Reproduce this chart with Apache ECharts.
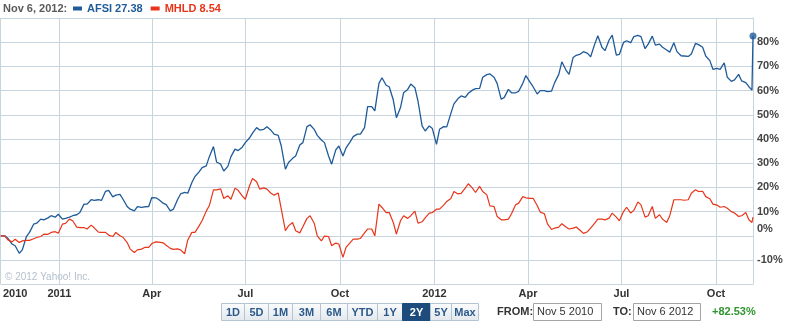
<!DOCTYPE html>
<html>
<head>
<meta charset="utf-8">
<script src="https://cdn.jsdelivr.net/npm/echarts@6/dist/echarts.min.js"></script>
<style>
  html, body { margin: 0; padding: 0; background: #fff; }
  #chart { width: 786px; height: 322px; }
</style>
</head>
<body>
<div id="chart"></div>
<script>
// Closing samples (Fridays and the following Tuesdays) plus the last two sessions.
const sampleDates = [
  '2010-11-05','2010-11-09','2010-11-12','2010-11-16','2010-11-19','2010-11-23','2010-11-26','2010-11-30',
  '2010-12-03','2010-12-07','2010-12-10','2010-12-14','2010-12-17','2010-12-21','2010-12-24','2010-12-28','2010-12-31','2011-01-04',
  '2011-01-07','2011-01-11','2011-01-14','2011-01-18','2011-01-21','2011-01-25','2011-01-28','2011-02-01',
  '2011-02-04','2011-02-08','2011-02-11','2011-02-15','2011-02-18','2011-02-22','2011-02-25','2011-03-01',
  '2011-03-04','2011-03-08','2011-03-11','2011-03-15','2011-03-18','2011-03-22','2011-03-25','2011-03-29',
  '2011-04-01','2011-04-05','2011-04-08','2011-04-12','2011-04-15','2011-04-19','2011-04-22','2011-04-26','2011-04-29','2011-05-03',
  '2011-05-06','2011-05-10','2011-05-13','2011-05-17','2011-05-20','2011-05-24','2011-05-27','2011-05-31',
  '2011-06-03','2011-06-07','2011-06-10','2011-06-14','2011-06-17','2011-06-21','2011-06-24','2011-06-28',
  '2011-07-01','2011-07-05','2011-07-08','2011-07-12','2011-07-15','2011-07-19','2011-07-22','2011-07-26','2011-07-29','2011-08-02',
  '2011-08-05','2011-08-09','2011-08-12','2011-08-16','2011-08-19','2011-08-23','2011-08-26','2011-08-30',
  '2011-09-02','2011-09-06','2011-09-09','2011-09-13','2011-09-16','2011-09-20','2011-09-23','2011-09-27','2011-09-30','2011-10-04',
  '2011-10-07','2011-10-11','2011-10-14','2011-10-18','2011-10-21','2011-10-25','2011-10-28','2011-11-01',
  '2011-11-04','2011-11-08','2011-11-11','2011-11-15','2011-11-18','2011-11-22','2011-11-25','2011-11-29',
  '2011-12-02','2011-12-06','2011-12-09','2011-12-13','2011-12-16','2011-12-20','2011-12-23','2011-12-27','2011-12-30','2012-01-03',
  '2012-01-06','2012-01-10','2012-01-13','2012-01-17','2012-01-20','2012-01-24','2012-01-27','2012-01-31',
  '2012-02-03','2012-02-07','2012-02-10','2012-02-14','2012-02-17','2012-02-21','2012-02-24','2012-02-28',
  '2012-03-02','2012-03-06','2012-03-09','2012-03-13','2012-03-16','2012-03-20','2012-03-23','2012-03-27','2012-03-30','2012-04-03',
  '2012-04-06','2012-04-10','2012-04-13','2012-04-17','2012-04-20','2012-04-24','2012-04-27','2012-05-01',
  '2012-05-04','2012-05-08','2012-05-11','2012-05-15','2012-05-18','2012-05-22','2012-05-25','2012-05-29',
  '2012-06-01','2012-06-05','2012-06-08','2012-06-12','2012-06-15','2012-06-19','2012-06-22','2012-06-26','2012-06-29','2012-07-03',
  '2012-07-06','2012-07-10','2012-07-13','2012-07-17','2012-07-20','2012-07-24','2012-07-27','2012-07-31',
  '2012-08-03','2012-08-07','2012-08-10','2012-08-14','2012-08-17','2012-08-21','2012-08-24','2012-08-28','2012-08-31','2012-09-04',
  '2012-09-07','2012-09-11','2012-09-14','2012-09-18','2012-09-21','2012-09-25','2012-09-28','2012-10-02',
  '2012-10-05','2012-10-09','2012-10-12','2012-10-16','2012-10-19','2012-10-23','2012-10-26','2012-10-30',
  '2012-11-02','2012-11-05','2012-11-06'
];

// AFSI, % change since 2010-11-05
const afsiChange = [
  0, 0, -1.1, -3.4, -4.1, -7.2, -5.8, -0.3,
  1.4, 4.8, 5.2, 6.9, 6.6, 7.4, 8.3, 7.7, 8.9, 6.9,
  7.2, 7.7, 8.3, 8.7, 9.6, 13.1, 13.1, 14.9,
  14.6, 14.9, 14.6, 18.4, 18.8, 16.1, 16.8, 17.1,
  15.1, 12.1, 11.0, 10.3, 12.1, 11.7, 12.0, 12.1,
  15.8, 15.7, 14.9, 13.5, 12.9, 10.3, 11.0, 14.9, 17.3, 17.9,
  17.6, 22.0, 24.5, 26.4, 28.2, 28.9, 32.7, 36.9,
  30.5, 29.6, 26.8, 28.7, 32.7, 35.8, 35.2, 36.6,
  38.5, 40.4, 42.4, 44.7, 43.7, 44.0, 45.1, 43.6, 42.0, 41.5,
  37.1, 27.5, 30.3, 32.0, 33.0, 37.5, 38.5, 45.1,
  45.9, 44.0, 41.5, 39.6, 38.5, 33.0, 29.6, 35.5, 37.1, 33.0,
  36.3, 38.8, 41.0, 42.0, 42.0, 44.7, 53.4, 53.4,
  51.6, 63.0, 65.3, 62.2, 61.6, 56.1, 48.8, 53.0,
  59.1, 60.5, 62.7, 61.2, 55.7, 45.4, 43.3, 45.4, 44.3, 37.8,
  44.0, 45.1, 45.0, 50.6, 54.5, 56.7, 57.8, 57.2,
  58.9, 60.2, 60.8, 60.9, 65.5, 66.6, 66.9, 65.5,
  63.0, 56.4, 57.2, 60.5, 59.1, 59.1, 59.7, 63.0, 66.2, 63.5,
  61.6, 58.6, 60.0, 60.0, 59.6, 59.8, 63.3, 66.7,
  71.9, 68.5, 66.7, 73.7, 74.6, 75.1, 76.1, 75.4,
  74.0, 79.2, 82.7, 77.9, 76.5, 80.9, 82.9, 74.7, 75.0, 79.9,
  80.6, 79.8, 82.3, 82.8, 82.3, 77.3, 79.2, 82.5,
  78.8, 79.2, 77.9, 76.8, 75.9, 79.8, 76.1, 74.4, 74.3, 74.1,
  75.1, 79.5, 79.0, 77.9, 74.3, 72.4, 68.8, 69.2,
  68.8, 71.5, 65.5, 63.8, 64.4, 66.7, 64.0, 63.3,
  61.6, 60.2, 82.53
];

// MHLD, % change since 2010-11-05
const mhldChange = [
  0, -0.1, -1.7, -2.5, -1.4, -2.8, -2.1, -1.9,
  -1.9, -1.2, -0.7, -0.3, 0.7, 0.6, 1.4, 1.7, 1.1, 4.8,
  5.1, 6.9, 6.2, 3.6, 3.4, 3.4, 2.8, 4.4,
  3.3, 1.5, 1.4, 1.4, 0.3, -0.3, 1.4, 0.0,
  -0.6, -2.8, -5.5, -6.9, -5.8, -5.5, -4.8, -4.8,
  -3.2, -2.5, -2.6, -2.9, -3.9, -5.2, -5.6, -5.4, -5.8, -7.4,
  -1.7, 1.4, 1.4, 4.1, 6.3, 10.2, 12.5, 19.0,
  19.0, 19.4, 15.4, 16.5, 15.1, 19.7, 18.8, 16.5,
  15.1, 20.6, 23.7, 22.3, 19.3, 19.8, 19.3, 17.6, 16.8, 17.7,
  11.0, 2.1, 4.1, 5.5, 2.1, 1.2, 3.7, 7.2,
  8.3, 5.2, 0.0, -2.1, -0.1, -0.3, -4.1, -3.0, -3.4, -8.9,
  -4.8, -2.8, -1.4, -1.4, -1.1, 1.2, 2.8, 2.8,
  0.0, 13.1, 11.7, 9.6, 9.6, 5.5, 0.7, 6.2,
  8.3, 7.2, 8.3, 10.2, 5.2, 5.8, 7.4, 9.4, 9.6, 11.0,
  11.0, 12.7, 14.2, 15.4, 18.3, 17.3, 17.5, 19.7,
  21.5, 19.7, 17.9, 20.4, 18.3, 16.9, 12.4, 12.1,
  8.0, 6.6, 6.6, 6.9, 9.1, 12.8, 13.5, 16.2, 15.7, 15.5,
  15.5, 12.5, 9.8, 9.1, 4.95, 2.6, 3.2, 3.6,
  5.0, 3.6, 2.8, 3.2, 3.6, 2.2, 1.0, 1.7,
  3.2, 5.2, 6.9, 6.9, 6.6, 7.3, 9.4, 7.7, 6.2, 10.0,
  11.8, 9.4, 10.5, 14.0, 12.8, 7.7, 8.3, 12.1,
  7.2, 8.7, 6.9, 5.5, 8.3, 14.9, 14.9, 14.9, 14.7, 14.9,
  17.6, 19.0, 18.3, 18.4, 16.2, 15.3, 13.1, 12.7,
  11.8, 12.1, 11.4, 10.0, 9.4, 8.0, 8.3, 9.6,
  6.6, 5.5, 7.7
];

// Time axis marks and their captions
const xTickDates = ['2010-11-05','2011-01-01','2011-04-01','2011-07-01','2011-10-01',
                    '2012-01-01','2012-04-01','2012-07-01','2012-10-01'];
const xTickLabels = ['2010','2011','Apr','Jul','Oct','2012','Apr','Jul','Oct'];

// Quote header and range controls
const quoteDate = 'Nov 6, 2012:';
const tickers = ['AFSI', 'MHLD'];
const lastPrices = ['27.38', '8.54'];
const rangeButtons = ['1D','5D','1M','3M','6M','YTD','1Y','2Y','5Y','Max'];
const activeRange = '2Y';
const fromDate = 'Nov 5 2010';
const toDate = 'Nov 6 2012';
const totalChange = '+82.53%';
const copyright = '\u00A9 2012 Yahoo! Inc.';

// ---- drawing ----
const FONT = '"Liberation Sans", Arial, sans-serif';
const BLUE = '#1f5b98';
const RED = '#e8351a';
const GRID = '#c8d4de';

// dates become millisecond values on a numeric axis
const toTime = s => { const p = s.split('-').map(Number); return Date.UTC(p[0], p[1] - 1, p[2]); };
const sampleTimes = sampleDates.map(toTime);
const xTickTimes = xTickDates.map(toTime);
const labelByTime = {};
xTickTimes.forEach((t, i) => { labelByTime[t] = xTickLabels[i]; });

const afsiData = sampleTimes.map((t, i) => [t, afsiChange[i]]);
const mhldData = sampleTimes.map((t, i) => [t, mhldChange[i]]);
const lastIdx = sampleDates.length - 1;

// button strip layout (left edges and final right edge)
const btnEdges = [221, 244, 268, 292, 320, 347, 377, 402, 430, 451, 478];
const btnTop = 303, btnH = 17;
const btnGradient = new echarts.graphic.LinearGradient(0, 0, 0, 1, [
  { offset: 0, color: '#fbfcfd' }, { offset: 1, color: '#e3e8ed' }
]);

const graphics = [];
graphics.push({
  type: 'text', left: 3, top: 3,
  style: { text: quoteDate, fill: '#5a5a5a', font: 'bold 11px ' + FONT }
});
graphics.push({
  type: 'text', left: 5, top: 272,
  style: { text: copyright, fill: '#b3bfcb', font: '10px ' + FONT }
});
rangeButtons.forEach((b, i) => {
  const x0 = btnEdges[i], x1 = btnEdges[i + 1];
  const active = b === activeRange;
  graphics.push({
    type: 'rect',
    shape: { x: x0 + 0.5, y: btnTop + 0.5, width: x1 - x0, height: btnH },
    style: { fill: active ? '#1d4b7b' : btnGradient, stroke: active ? '#1d4b7b' : '#b5c4d2', lineWidth: 1 },
    z: 10
  });
  graphics.push({
    type: 'text',
    style: {
      x: (x0 + x1) / 2 + 0.5, y: btnTop + btnH / 2 + 1,
      text: b, align: 'center', verticalAlign: 'middle',
      fill: active ? '#ffffff' : '#2b5a8b', font: 'bold 11px ' + FONT
    },
    z: 11
  });
});
graphics.push({ type: 'text', style: { x: 497, y: 312, text: 'FROM:', verticalAlign: 'middle', fill: '#333', font: 'bold 11px ' + FONT }, z: 11 });
graphics.push({ type: 'rect', shape: { x: 533.5, y: 303.5, width: 68, height: 17 }, style: { fill: '#fff', stroke: '#a4a4a4', lineWidth: 1 }, z: 10 });
graphics.push({ type: 'text', style: { x: 537, y: 312, text: fromDate, verticalAlign: 'middle', fill: '#333', font: '11px ' + FONT }, z: 11 });
graphics.push({ type: 'text', style: { x: 613, y: 312, text: 'TO:', verticalAlign: 'middle', fill: '#333', font: 'bold 11px ' + FONT }, z: 11 });
graphics.push({ type: 'rect', shape: { x: 633.5, y: 303.5, width: 67, height: 17 }, style: { fill: '#fff', stroke: '#a4a4a4', lineWidth: 1 }, z: 10 });
graphics.push({ type: 'text', style: { x: 637, y: 312, text: toDate, verticalAlign: 'middle', fill: '#333', font: '11px ' + FONT }, z: 11 });
graphics.push({ type: 'text', style: { x: 712, y: 312, text: totalChange, verticalAlign: 'middle', fill: '#2e962e', font: 'bold 11px ' + FONT }, z: 11 });

const chart = echarts.init(document.getElementById('chart'));
chart.setOption({
  animation: false,
  backgroundColor: '#ffffff',
  grid: { left: 0, right: 33, top: 18, bottom: 37.8 },
  legend: {
    left: 73, top: 3, padding: 0,
    icon: 'rect', itemWidth: 9, itemHeight: 4, itemGap: 8,
    selectedMode: false,
    formatter: name => name + ' ' + lastPrices[tickers.indexOf(name)],
    textStyle: { fontFamily: FONT, fontWeight: 'bold', fontSize: 11 },
    data: [
      { name: tickers[0], textStyle: { color: BLUE } },
      { name: tickers[1], textStyle: { color: RED } }
    ]
  },
  xAxis: {
    type: 'value',
    min: sampleTimes[0],
    max: sampleTimes[lastIdx],
    axisLine: { show: false },
    axisTick: { show: false, customValues: xTickTimes },
    splitLine: { show: true, lineStyle: { color: GRID, width: 1 } },
    axisLabel: {
      customValues: xTickTimes,
      showMinLabel: true, showMaxLabel: true, hideOverlap: false,
      margin: 4,
      fontFamily: FONT, fontWeight: 'bold', fontSize: 11, color: '#333',
      formatter: v => {
        const t = labelByTime[v] || '';
        return v === xTickTimes[0] ? '{first|' + t + '}' : t;
      },
      rich: {
        first: { fontFamily: FONT, fontWeight: 'bold', fontSize: 11, color: '#333', padding: [0, 0, 0, 29] }
      }
    }
  },
  yAxis: {
    type: 'value',
    position: 'right',
    min: -20, max: 90, interval: 10,
    axisLine: { show: true, lineStyle: { color: GRID } },
    axisTick: { show: false },
    splitLine: { show: true, lineStyle: { color: GRID, width: 1 } },
    axisLabel: {
      margin: 4,
      fontFamily: FONT, fontWeight: 'bold', fontSize: 11, color: '#444',
      formatter: v => {
        if (v <= -20 || v >= 90) return '';
        return v === 0 ? '{zero|0%}' : v + '%';
      },
      rich: {
        zero: { fontFamily: FONT, fontWeight: 'bold', fontSize: 11, color: '#444', padding: [0, 0, 14, 0] }
      }
    }
  },
  series: [
    {
      name: tickers[0], type: 'line', data: afsiData,
      showSymbol: false, symbol: 'none',
      lineStyle: { color: BLUE, width: 1.3 }, itemStyle: { color: BLUE },
      z: 3
    },
    {
      name: tickers[1], type: 'line', data: mhldData,
      showSymbol: false, symbol: 'none',
      lineStyle: { color: RED, width: 1.2 }, itemStyle: { color: RED },
      z: 4
    },
    {
      name: 'last', type: 'scatter', clip: false,
      data: [[sampleTimes[lastIdx], afsiChange[lastIdx]]],
      symbol: 'circle', symbolSize: 7,
      itemStyle: { color: BLUE },
      z: 5
    }
  ],
  graphic: graphics
});
</script>
</body>
</html>
